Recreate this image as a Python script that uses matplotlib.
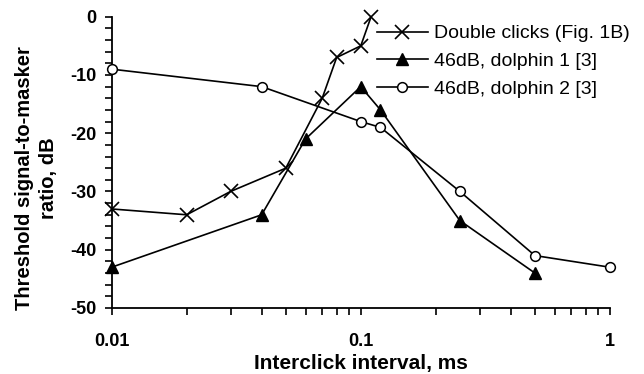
import matplotlib
matplotlib.use("Agg")
import matplotlib.pyplot as plt
from matplotlib.ticker import FixedLocator, NullFormatter, LogLocator

plt.rcParams['font.family'] = ['Liberation Sans', 'DejaVu Sans']
plt.rcParams['axes.unicode_minus'] = False

# data
dbl_x = [0.01, 0.02, 0.03, 0.05, 0.07, 0.08, 0.1, 0.11]
dbl_y = [-33, -34, -30, -26, -14, -7, -5, 0]
d1_x = [0.01, 0.04, 0.06, 0.1, 0.12, 0.25, 0.5]
d1_y = [-43, -34, -21, -12, -16, -35, -44]
d2_x = [0.01, 0.04, 0.1, 0.12, 0.25, 0.5, 1.0]
d2_y = [-9, -12, -18, -19, -30, -41, -43]

labels = ["Double clicks (Fig. 1B)", "46dB, dolphin 1 [3]", "46dB, dolphin 2 [3]"]
x_ticks = [0.01, 0.1, 1]
x_tick_labels = ["0.01", "0.1", "1"]
y_ticks = [0, -10, -20, -30, -40, -50]

fig = plt.figure(figsize=(6.44, 3.74), dpi=100)
ax = fig.add_axes([0.1734, 0.1765, 0.7736, 0.7788])

ax.plot(dbl_x, dbl_y, color='black', lw=1.2, marker='x', ms=10, mew=1.2,
        label=labels[0], clip_on=False, zorder=3)
ax.plot(d1_x, d1_y, color='black', lw=1.2, marker='^', ms=8.5,
        label=labels[1], clip_on=False, zorder=3)
ax.plot(d2_x, d2_y, color='black', lw=1.2, marker='o', ms=7, mfc='white', mew=1.1,
        label=labels[2], clip_on=False, zorder=3)

ax.set_xscale('log')
ax.set_xlim(0.01, 1)
ax.set_ylim(-50, 0)

ax.set_xticks(x_ticks)
ax.set_xticklabels(x_tick_labels, fontweight='bold', fontsize=13)
ax.xaxis.set_minor_locator(LogLocator(base=10, subs=range(2, 10)))
ax.xaxis.set_minor_formatter(NullFormatter())
ax.set_yticks(y_ticks)
ax.set_yticklabels([str(v) for v in y_ticks], fontweight='bold', fontsize=13)
ax.yaxis.set_minor_locator(FixedLocator(range(-50, 1, 2)))

ax.tick_params(which='both', direction='out', length=5, width=1.2, color='black')
ax.tick_params(axis='x', which='major', pad=13)
ax.tick_params(axis='y', which='major', pad=6)

for s in ['top', 'right']:
    ax.spines[s].set_visible(False)
for s in ['left', 'bottom']:
    ax.spines[s].set_linewidth(1.3)

ax.set_xlabel("Interclick interval, ms", fontweight='bold', fontsize=15, labelpad=3)
ax.set_ylabel("Threshold signal-to-masker\nratio, dB", fontweight='bold', fontsize=14.5,
              linespacing=1.3)
ax.yaxis.set_label_coords(-0.108, 0.445)

ax.legend(loc='upper left', bbox_to_anchor=(0.533, 0.972), frameon=False, fontsize=14,
          handlelength=2.6, handletextpad=0.3, labelspacing=0.52, borderaxespad=0, borderpad=0)

fig.savefig("out.png", dpi=100)
